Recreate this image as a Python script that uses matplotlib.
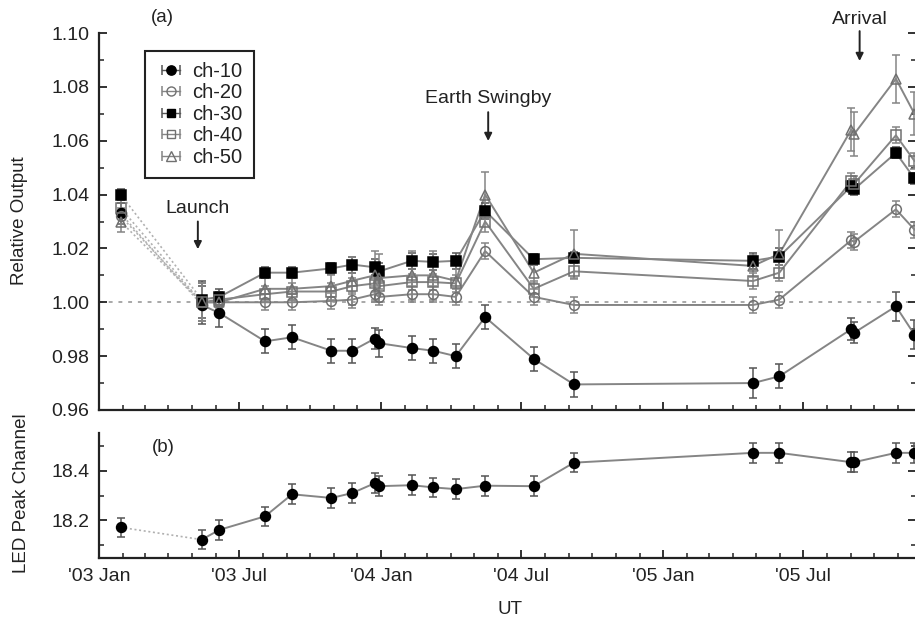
import numpy as np
import pandas as pd
import matplotlib
matplotlib.use('Agg')
import matplotlib.pyplot as plt
import matplotlib.dates as mdates
from matplotlib.lines import Line2D
from matplotlib.ticker import MultipleLocator, FixedLocator, FormatStrFormatter
from matplotlib.legend_handler import HandlerTuple, HandlerLine2D

plt.rcParams['font.family'] = ['Liberation Sans', 'DejaVu Sans']

# ---- data ----
dates = pd.to_datetime([
  '2003-01-29', '2003-05-14', '2003-06-06', '2003-08-04', '2003-09-08',
  '2003-10-29', '2003-11-25', '2003-12-24', '2003-12-30', '2004-02-10',
  '2004-03-09', '2004-04-07', '2004-05-15', '2004-07-17', '2004-09-07',
  '2005-04-27', '2005-05-31', '2005-09-01', '2005-09-05', '2005-10-29',
  '2005-11-22'])

ch10 = [1.033, 0.999, 0.996, 0.9855, 0.987, 0.982, 0.982, 0.9865, 0.9848, 0.983, 0.982,
        0.980, 0.9945, 0.979, 0.9695, 0.970, 0.9725, 0.990, 0.9887, 0.9985, 0.988]
ch20 = [1.032, 1.000, 1.000, 1.000, 1.000, 1.0005, 1.001, 1.003, 1.002, 1.003, 1.003,
        1.002, 1.019, 1.002, 0.999, 0.999, 1.001, 1.023, 1.0225, 1.0345, 1.027]
ch30 = [1.040, 1.001, 1.002, 1.011, 1.011, 1.0126, 1.014, 1.013, 1.0115, 1.0154, 1.015,
        1.0154, 1.034, 1.016, 1.0165, 1.0154, 1.017, 1.043, 1.042, 1.0555, 1.046]
ch40 = [1.035, 1.000, 1.001, 1.003, 1.004, 1.004, 1.006, 1.007, 1.006, 1.0075, 1.0075,
        1.007, 1.030, 1.005, 1.0115, 1.0079, 1.011, 1.045, 1.044, 1.062, 1.0525]
ch50 = [1.030, 1.000, 1.000, 1.005, 1.005, 1.006, 1.008, 1.010, 1.009, 1.010, 1.010,
        1.008, 1.040, 1.011, 1.018, 1.0135, 1.018, 1.064, 1.0625, 1.083, 1.070]

err10 = [0.004, 0.007, 0.005, 0.0045, 0.0045, 0.0045, 0.0045, 0.004, 0.005, 0.0045, 0.0045,
         0.0045, 0.0045, 0.0045, 0.0045, 0.0055, 0.0045, 0.004, 0.004, 0.0055, 0.0055]
err20 = [0.003, 0.007, 0.003, 0.003, 0.003, 0.003, 0.003, 0.003, 0.003, 0.003, 0.003,
         0.003, 0.003, 0.003, 0.003, 0.003, 0.003, 0.003, 0.003, 0.003, 0.003]
err30 = [0.002, 0.007, 0.003, 0.002, 0.002, 0.002, 0.003, 0.003, 0.003, 0.003, 0.003,
         0.003, 0.003, 0.002, 0.002, 0.003, 0.003, 0.002, 0.002, 0.002, 0.002]
err40 = [0.003, 0.007, 0.003, 0.003, 0.003, 0.003, 0.003, 0.003, 0.003, 0.003, 0.003,
         0.003, 0.004, 0.003, 0.003, 0.003, 0.003, 0.003, 0.003, 0.003, 0.003]
err50 = [0.004, 0.007, 0.004, 0.004, 0.004, 0.004, 0.009, 0.009, 0.009, 0.009, 0.009,
         0.008, 0.0085, 0.004, 0.009, 0.004, 0.009, 0.008, 0.008, 0.009, 0.008]

led_peak = [18.17, 18.12, 18.16, 18.215, 18.305, 18.29, 18.31, 18.35, 18.338, 18.342, 18.333,
            18.326, 18.34, 18.338, 18.434, 18.474, 18.474, 18.436, 18.436, 18.474, 18.474]
led_err = [0.04] * len(led_peak)

event_names = ['Launch', 'Earth Swingby', 'Arrival']
event_dates = pd.to_datetime(['2003-05-09', '2004-05-19', '2005-09-12'])
# (text y, arrow tail y, arrow tip y) in data units of panel (a)
event_y = [(1.0349, 1.0300, 1.0197), (1.0755, 1.0706, 1.0599), (1.1050, 1.1007, 1.0896)]

LINE = '#858585'
DOT = '#b0b0b0'
TXT = '#222222'

series = [
  # label, values, errors, marker, face, edge, ecolor, ms
  ('ch-10', ch10, err10, 'o', 'k', 'k', '#555555', 7.2),
  ('ch-20', ch20, err20, 'o', 'none', '#707070', '#858585', 7.0),
  ('ch-30', ch30, err30, 's', 'k', 'k', '#555555', 6.5),
  ('ch-40', ch40, err40, 's', 'none', '#707070', '#858585', 6.8),
  ('ch-50', ch50, err50, '^', 'none', '#707070', '#858585', 7.0),
]

W, H = 915, 622
fig = plt.figure(figsize=(W / 100, H / 100), dpi=100)


def px_axes(l, t, r, b):
  return fig.add_axes([l / W, 1 - b / H, (r - l) / W, (b - t) / H])


ax1 = px_axes(99, 33, 916, 410)
ax2 = px_axes(99, 433, 916, 558)

ax1.axhline(1.0, color='#a8a8a8', lw=1.4, ls=(0, (2, 3)), zorder=1)

for name, v, e, mk, fc, ec, ecol, ms in series:
  ax1.plot(dates[:2], v[:2], ls=(0, (1.2, 1.6)), color=DOT, lw=1.2, zorder=2)
  ax1.plot(dates[1:], v[1:], '-', color=LINE, lw=1.4, zorder=2)
  ax1.errorbar(dates, v, yerr=e, fmt=mk, ms=ms, mfc=fc, mec=ec, mew=1.1,
               ecolor=ecol, elinewidth=1.1, capsize=3, capthick=1.1, zorder=3)

ax2.plot(dates[:2], led_peak[:2], ls=(0, (1.2, 1.6)), color=DOT, lw=1.2, zorder=2)
ax2.plot(dates[1:], led_peak[1:], '-', color=LINE, lw=1.4, zorder=2)
ax2.errorbar(dates, led_peak, yerr=led_err, fmt='o', ms=7.2, mfc='k', mec='k',
             ecolor='#555555', elinewidth=1.1, capsize=3, capthick=1.1, zorder=3)

for ax in (ax1, ax2):
  ax.set_xlim(pd.Timestamp('2003-01-01'), pd.Timestamp('2005-11-24'))
  ax.xaxis.set_major_locator(mdates.MonthLocator(bymonth=[1, 7]))
  ax.xaxis.set_minor_locator(mdates.MonthLocator())
  ax.xaxis.set_major_formatter(mdates.DateFormatter("'%y %b"))
  ax.spines['top'].set_visible(False)
  for s in ('left', 'bottom', 'right'):
    ax.spines[s].set_linewidth(1.6)
    ax.spines[s].set_color(TXT)
  ax.tick_params(which='both', direction='in', right=True, top=False,
                 labelsize=14, labelcolor=TXT, color=TXT, pad=7)
  ax.tick_params(which='major', length=6, width=1.3)
  ax.tick_params(which='minor', length=3.5, width=1.1)

ax1.set_ylim(0.96, 1.10)
ax1.yaxis.set_major_locator(MultipleLocator(0.02))
ax1.yaxis.set_minor_locator(MultipleLocator(0.01))
ax1.yaxis.set_major_formatter(FormatStrFormatter('%.2f'))
ax1.tick_params(axis='x', labelbottom=False)

ax2.set_ylim(18.045, 18.555)
ax2.yaxis.set_major_locator(FixedLocator([18.2, 18.4]))
ax2.yaxis.set_minor_locator(FixedLocator([18.1, 18.3, 18.5]))
ax2.yaxis.set_major_formatter(FormatStrFormatter('%.1f'))

for name, d, (ty, tail, tip) in zip(event_names, event_dates, event_y):
  ax1.annotate('', xy=(d, tip), xytext=(d, tail), annotation_clip=False,
               arrowprops=dict(arrowstyle='-|>', color=TXT, lw=1.4,
                               mutation_scale=11, shrinkA=0, shrinkB=0))
  ax1.text(d, ty, name, ha='center', va='center', fontsize=14, color=TXT,
           clip_on=False)

# legend with horizontal error-bar style handles
handles, hmap = [], {tuple: HandlerTuple(ndivide=1, pad=0)}
for name, v, e, mk, fc, ec, ecol, ms in series:
  caps = Line2D([], [], ls='-', color=ecol, lw=1.0, marker='|', ms=7, mec=ecol, mew=1.1)
  dot = Line2D([], [], ls='none', marker=mk, ms=ms - 0.5, mfc=fc, mec=ec, mew=1.0)
  hmap[caps] = HandlerLine2D(numpoints=2)
  handles.append((caps, dot))
leg = ax1.legend(handles, [s[0] for s in series], handler_map=hmap,
                 loc='upper left', bbox_to_anchor=(145 / W, 1 - 51 / H),
                 bbox_transform=fig.transFigure, borderaxespad=0,
                 fontsize=14.5, handlelength=1.5, handletextpad=0.3,
                 borderpad=0.55, labelspacing=0.12, fancybox=False,
                 framealpha=1, edgecolor=TXT)
leg.get_frame().set_linewidth(1.5)
for t in leg.get_texts():
  t.set_color(TXT)

fig.text(162 / W, 1 - 17 / H, '(a)', ha='center', va='center', fontsize=13.5, color=TXT)
fig.text(163 / W, 1 - 447 / H, '(b)', ha='center', va='center', fontsize=13.5, color=TXT)
fig.text(20 / W, 1 - 221 / H, 'Relative Output', rotation=90, ha='center',
         va='center', fontsize=13.5, color=TXT)
fig.text(22 / W, 1 - 493 / H, 'LED Peak Channel', rotation=90, ha='center',
         va='center', fontsize=13.5, color=TXT)
fig.text(510 / W, 1 - 610 / H, 'UT', ha='center', va='center', fontsize=13.5, color=TXT)

fig.savefig('out.png', dpi=100)
